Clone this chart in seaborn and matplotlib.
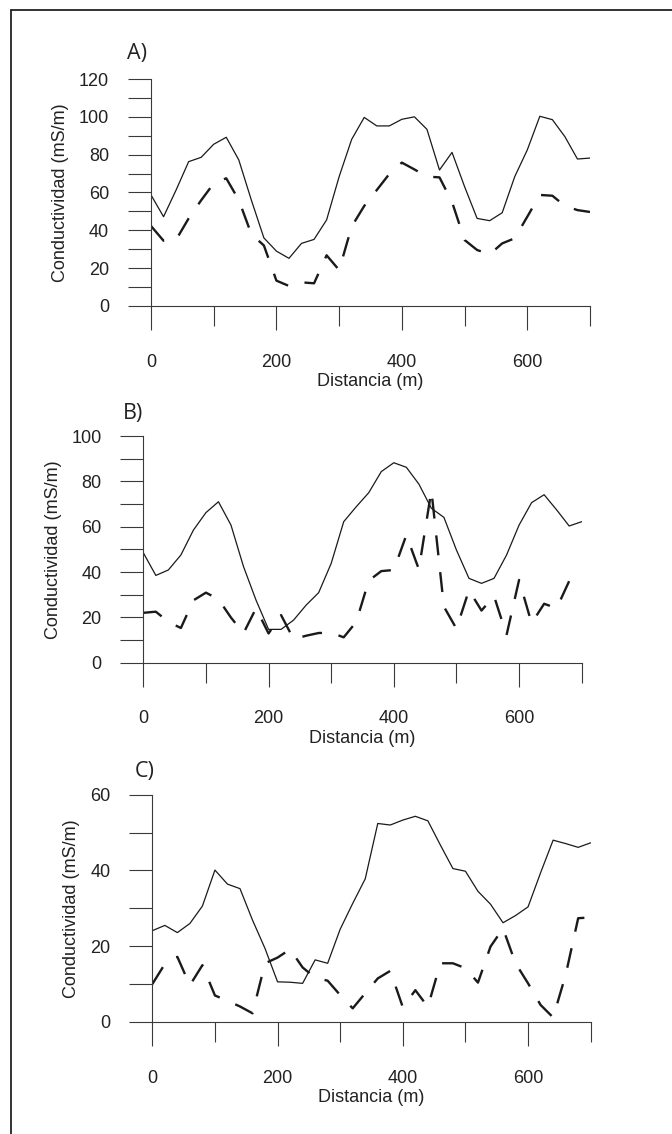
import matplotlib
matplotlib.use("Agg")
import matplotlib.pyplot as plt
import numpy as np
import pandas as pd
import seaborn as sns
from matplotlib.lines import Line2D
from matplotlib.ticker import MultipleLocator

# ---------------- data ----------------
distance = list(range(0, 701, 20))

a_solid = [58.7, 47.2, 61.3, 76.3, 78.6, 85.5, 89.2, 77.2, 56, 36, 29, 25.2,
           33.1, 35.2, 45.5, 68.4, 88.1, 99.7, 95.2, 95.2, 98.7, 100, 93.4, 71.9,
           81.2, 63.1, 46.3, 45.1, 49.3, 68.4, 82.5, 100.3, 98.5, 89.5, 77.7, 78.2]
a_dashed = [42.3, 34.5, 35, 46.3, 55.9, 64.8, 67.5, 56, 38, 32, 13.4, 10.6,
            12.5, 12, 26.8, 19, 42, 52.9, 61.3, 69.8, 75.8, 72.2, 68.4, 68,
            55, 34.9, 29.6, 27.3, 33.1, 35.8, 47.2, 58.7, 58.3, 52.9, 50.7, 49.7]

b_solid = [48.5, 38.5, 40.9, 47.5, 58.5, 66.2, 71, 60.7, 42.4, 27.6, 14.7, 14.7,
           18.8, 25.4, 30.9, 43.8, 62.2, 68.8, 75, 84.3, 88.2, 86.2, 78.8, 68.1,
           64.1, 49.7, 37.2, 35, 37.2, 47.5, 60.7, 70.6, 74.1, 67.4, 60.3, 62.2]
b_dashed = [22, 22.5, 18, 15.3, 27.5, 30.9, 28, 19.9, 13, 24, 12.9, 21,
            10.4, 11.9, 13.1, 13.2, 11.2, 18, 36.2, 40.4, 40.9, 56.3, 41.2, 76,
            24.7, 15, 32, 23, 29.4, 12.2, 36.5, 17.4, 26, 24, 36, 40]

c_solid = [24.1, 25.5, 23.6, 26, 30.6, 40.1, 36.4, 35.2, 26.9, 19.4, 10.6, 10.5,
           10.2, 16.4, 15.5, 24.5, 31.3, 37.8, 52.4, 52, 53.3, 54.3, 53.1, 46.7,
           40.5, 39.8, 34.5, 31.1, 26.2, 28.1, 30.4, 39.4, 48, 47.1, 46.1, 47.3]
c_dashed = [10, 15.3, 17.2, 9.7, 15, 7, 5.6, 4.1, 2.3, 15.5, 17, 19.2,
            14.4, 11.7, 10.9, 7.1, 3.6, 7.6, 11.5, 13.5, 3.9, 8.4, 4, 15.5,
            15.5, 14.2, 10.4, 19.9, 24.7, 15.5, 10.2, 4.5, 1.2, 12.4, 27.4, 27.6]

panel_labels = ["A)", "B)", "C)"]
y_tops = [120, 100, 60]
x_label = "Distancia (m)"
y_label = "Conductividad (mS/m)"

# ---------------- style ----------------
sns.set_style("ticks")
plt.rcParams["font.family"] = ["Liberation Sans", "DejaVu Sans"]
plt.rcParams["lines.scale_dashes"] = False

W, H = 672, 1134
fig = plt.figure(figsize=(W / 100, H / 100), dpi=100)

# axes boxes in pixels: (x0, x700, y0 value, y top)
boxes = [(151, 590, 306, 79), (143.3, 581.7, 662.7, 436), (152.3, 590.7, 1022, 794.7)]
ylab_x = [69, 62, 80]
lab_pos = [(137, 54), (133, 414), (145, 772)]

series = [(a_solid, a_dashed), (b_solid, b_dashed), (c_solid, c_dashed)]
ink = "#1a1a1a"
spine_c = "#3a3a3a"

for i, ((sol, das), (x0, x1, y0, y1)) in enumerate(zip(series, boxes)):
    ax = fig.add_axes([x0 / W, 1 - y0 / H, (x1 - x0) / W, (y0 - y1) / H])
    df = pd.DataFrame({
        "Distancia": distance + distance,
        "Conductividad": sol + das,
        "Serie": ["s"] * len(distance) + ["d"] * len(distance),
    })
    sns.lineplot(data=df, x="Distancia", y="Conductividad", style="Serie",
                 style_order=["s", "d"], dashes={"s": "", "d": (14.4, 12.2)},
                 color=ink, ax=ax, legend=False, estimator=None)
    for ln in ax.lines:
        if ln.get_linestyle() in ("-", "solid"):
            ln.set_linewidth(0.9)
        else:
            ln.set_linewidth(1.7)
            ln.set_dash_capstyle("butt")
    ax.set_xlim(0, 700)
    ax.set_ylim(0, y_tops[i])
    for s in ("top", "right"):
        ax.spines[s].set_visible(False)
    for s in ("left", "bottom"):
        ax.spines[s].set_color(spine_c)
        ax.spines[s].set_linewidth(0.8)
    ax.xaxis.set_major_locator(MultipleLocator(200))
    ax.xaxis.set_minor_locator(MultipleLocator(100))
    ax.yaxis.set_major_locator(MultipleLocator(20))
    ax.yaxis.set_minor_locator(MultipleLocator(10))
    ax.tick_params(axis="x", which="major", direction="out", length=17.3, width=0.8,
                   color=spine_c, pad=17, labelsize=13, labelcolor="#222")
    ax.tick_params(axis="x", which="minor", direction="out", length=14.4, width=0.8,
                   color=spine_c)
    ax.tick_params(axis="y", which="both", direction="out", length=16.6, width=0.8,
                   color=spine_c, pad=13.5, labelsize=13, labelcolor="#222")
    ax.set_xlabel(x_label, fontsize=13, labelpad=2, color="#222")
    ax.set_ylabel(y_label, fontsize=13, color="#222")
    ax.yaxis.set_label_coords((ylab_x[i] - x0) / (x1 - x0), 0.5)
    ax.set_facecolor("none")
    lx, ly = lab_pos[i]
    fig.text(lx / W, 1 - ly / H, panel_labels[i], fontsize=15.5,
             family=["Open Sans", "DejaVu Sans"], ha="center", va="center", color="#222")

# outer frame (left and top edges)
fig.add_artist(Line2D([11 / W, 11 / W], [0, 1 - 10 / H], transform=fig.transFigure,
                      color="#222", lw=1.3))
fig.add_artist(Line2D([11 / W, 1], [1 - 10 / H, 1 - 10 / H], transform=fig.transFigure,
                      color="#222", lw=1.3))

fig.savefig("out.png", dpi=100)
